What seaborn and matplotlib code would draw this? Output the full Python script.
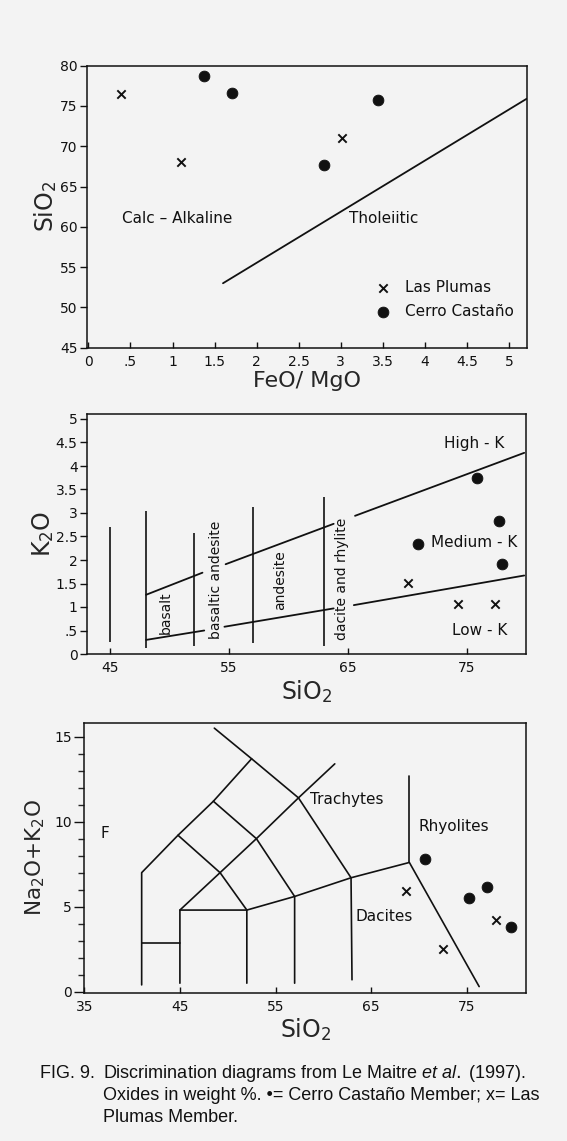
import matplotlib

matplotlib.use("Agg")
import matplotlib.pyplot as plt
import seaborn as sns

# --- panel 1: SiO2 vs FeO/MgO (Miyashiro) ---
feo_mgo_lp = [0.39, 1.10, 3.01]
sio2_lp_top = [76.5, 68.0, 71.0]
feo_mgo_cc = [1.37, 1.71, 2.80, 3.44]
sio2_cc_top = [78.7, 76.6, 67.7, 75.8]
miyashiro_x = [1.6, 5.21]
miyashiro_y = [53.0, 75.9]
top_xticks = [0, 0.5, 1, 1.5, 2, 2.5, 3, 3.5, 4, 4.5, 5]
top_xticklabels = ["0", ".5", "1", "1.5", "2", "2.5", "3", "3.5", "4", "4.5", "5"]
top_yticks = [45, 50, 55, 60, 65, 70, 75, 80]

# --- panel 2: K2O vs SiO2 ---
sio2_lp_mid = [70.1, 74.3, 77.4]
k2o_lp = [1.52, 1.06, 1.06]
sio2_cc_mid = [70.9, 75.9, 77.7, 78.0]
k2o_cc = [2.33, 3.74, 2.82, 1.91]
rock_div_x = [45, 48, 52, 57, 63]
rock_div_lo = [0.25, 0.13, 0.16, 0.23, 0.16]
rock_div_hi = [2.71, 3.05, 2.57, 3.12, 3.35]
high_k_segments = [([48.0, 52.75], [1.26, 1.73]),
                   ([54.7, 63.8], [1.91, 2.77]),
                   ([65.6, 79.85], [2.94, 4.28])]
low_k_segments = [([48.0, 52.9], [0.30, 0.50]),
                  ([54.6, 63.8], [0.58, 0.97]),
                  ([65.5, 79.85], [1.04, 1.67])]
mid_yticks = [0, 0.5, 1, 1.5, 2, 2.5, 3, 3.5, 4, 4.5, 5]
mid_yticklabels = ["0", ".5", "1", "1.5", "2", "2.5", "3", "3.5", "4", "4.5", "5"]
rock_names = ["basalt", "basaltic andesite", "andesite", "dacite and rhylite"]
rock_name_x = [49.7, 53.9, 59.3, 64.5]
rock_name_y = [0.87, 1.57, 1.57, 1.60]

# --- panel 3: TAS ---
sio2_lp_tas = [68.6, 72.5, 78.1]
alk_lp = [5.94, 2.49, 4.22]
sio2_cc_tas = [70.6, 75.2, 77.1, 79.6]
alk_cc = [7.78, 5.49, 6.14, 3.78]
tas_lines = [
    ([41, 41, 44.8, 48.5, 52.5], [0.4, 7.0, 9.2, 11.2, 13.7]),
    ([48.6, 52.5, 57.4, 62.9, 63.0], [15.5, 13.7, 11.4, 6.7, 0.7]),
    ([44.8, 49.2, 52.0, 52.0], [9.2, 7.0, 4.8, 0.5]),
    ([48.5, 53.0, 57.0, 57.0], [11.2, 9.0, 5.6, 0.5]),
    ([45.0, 49.2, 53.0, 57.4, 61.2], [4.8, 7.0, 9.0, 11.4, 13.4]),
    ([45, 45, 52, 57, 62.9, 69, 76.3], [0.5, 4.8, 4.8, 5.6, 6.7, 7.6, 0.3]),
    ([41, 45], [2.85, 2.85]),
    ([69, 69], [7.6, 12.7]),
]
tas_names = ["Trachytes", "Rhyolites", "Dacites", "F"]
tas_name_x = [62.5, 73.6, 66.4, 37.1]
tas_name_y = [11.3, 9.7, 4.4, 9.3]

PAPER = "#f3f3f3"
INK = "#111111"

sns.set_style("ticks")
plt.rcParams["font.family"] = ["DejaVu Sans"]
plt.rcParams["mathtext.fontset"] = "custom"
plt.rcParams["mathtext.rm"] = "DejaVu Sans"
plt.rcParams["mathtext.it"] = "Liberation Sans:italic"
plt.rcParams["axes.linewidth"] = 1.1
plt.rcParams["axes.edgecolor"] = INK
plt.rcParams["text.color"] = INK

fig = plt.figure(figsize=(5.67, 11.41), dpi=100, facecolor=PAPER)
W, H = 567, 1141


def add_axes(left, top, right, bottom):
    ax = fig.add_axes([left / W, 1 - bottom / H, (right - left) / W, (bottom - top) / H])
    ax.set_facecolor(PAPER)
    ax.tick_params(axis="x", direction="in", length=4, width=1, labelsize=10, pad=5, colors=INK)
    ax.tick_params(axis="y", direction="out", length=5, width=1, labelsize=10, pad=1.5, colors=INK)
    return ax


def points(ax, x_lp, y_lp, x_cc, y_cc):
    sns.scatterplot(x=x_lp, y=y_lp, ax=ax, marker="x", color=INK, s=36, linewidth=1.4,
                    label="Las Plumas", zorder=3)
    sns.scatterplot(x=x_cc, y=y_cc, ax=ax, marker="o", color=INK, s=60, edgecolor=INK,
                    label="Cerro Castaño", zorder=3)


# top panel
ax1 = add_axes(86.7, 65.7, 526.7, 347.7)
points(ax1, feo_mgo_lp, sio2_lp_top, feo_mgo_cc, sio2_cc_top)
ax1.plot(miyashiro_x, miyashiro_y, color=INK, lw=1.3)
ax1.set_xlim(-0.02, 5.21)
ax1.set_ylim(45, 80)
ax1.set_xticks(top_xticks, top_xticklabels)
ax1.set_yticks(top_yticks)
ax1.text(1.05, 61, "Calc – Alkaline", ha="center", va="center", fontsize=11)
ax1.text(3.51, 61, "Tholeiitic", ha="center", va="center", fontsize=11)
ax1.legend(loc="upper left", bbox_to_anchor=(0.655, 0.24), frameon=False, fontsize=11,
           handlelength=1.0, handletextpad=0.95, labelspacing=0.62, borderpad=0,
           borderaxespad=0)
ax1.set_xlabel("FeO/ MgO", fontsize=16, labelpad=2)
ax1.set_ylabel("SiO$_2$", fontsize=17, labelpad=1)

# middle panel
ax2 = add_axes(86.7, 414.3, 526, 654)
points(ax2, sio2_lp_mid, k2o_lp, sio2_cc_mid, k2o_cc)
ax2.get_legend().remove()
ax2.vlines(rock_div_x, rock_div_lo, rock_div_hi, color=INK, lw=1.2)
for xs, ys in high_k_segments + low_k_segments:
    ax2.plot(xs, ys, color=INK, lw=1.3)
for name, x, y in zip(rock_names, rock_name_x, rock_name_y):
    ax2.text(x, y, name, rotation=90, ha="center", va="center", fontsize=10)
ax2.text(75.6, 4.48, "High - K", ha="center", va="center", fontsize=11)
ax2.text(75.6, 2.38, "Medium - K", ha="center", va="center", fontsize=11)
ax2.text(76.1, 0.50, "Low - K", ha="center", va="center", fontsize=11)
ax2.set_xlim(43, 80)
ax2.set_ylim(0, 5.1)
ax2.set_xticks([45, 55, 65, 75])
ax2.set_yticks(mid_yticks, mid_yticklabels)
ax2.set_xlabel("SiO$_2$", fontsize=17, labelpad=2)
ax2.set_ylabel("K$_2$O", fontsize=17, labelpad=0)

# bottom panel
ax3 = add_axes(84.3, 722.7, 526, 992.7)
points(ax3, sio2_lp_tas, alk_lp, sio2_cc_tas, alk_cc)
ax3.get_legend().remove()
for xs, ys in tas_lines:
    ax3.plot(xs, ys, color=INK, lw=1.2)
for name, x, y in zip(tas_names, tas_name_x, tas_name_y):
    ax3.text(x, y, name, ha="center", va="center", fontsize=11)
ax3.set_xlim(35, 81.2)
ax3.set_ylim(-0.06, 15.82)
ax3.set_xticks([35, 45, 55, 65, 75])
ax3.set_yticks([0, 5, 10, 15])
ax3.set_yticks(range(0, 16), minor=True)
ax3.tick_params(axis="y", which="major", length=7, pad=2)
ax3.tick_params(axis="y", which="minor", direction="out", length=4, width=1)
ax3.set_xlabel("SiO$_2$", fontsize=17, labelpad=2)
ax3.set_ylabel("Na$_2$O+K$_2$O", fontsize=15.5, labelpad=5)

# caption
cap = dict(family=["Liberation Sans", "DejaVu Sans"], fontsize=13, va="center", ha="left")
fig.text(39.5 / W, 1 - 1073 / H, "FIG. 9.", **cap)
fig.text(102.7 / W, 1 - 1073 / H,
         "Discrimination diagrams from Le Maitre $\\mathit{et\\ al.}$ (1997).", **cap)
fig.text(102.7 / W, 1 - 1096 / H, "Oxides in weight %. •= Cerro Castaño Member; x= Las", **cap)
fig.text(102.7 / W, 1 - 1118 / H, "Plumas Member.", **cap)

fig.savefig("out.png", dpi=100, facecolor=PAPER)
